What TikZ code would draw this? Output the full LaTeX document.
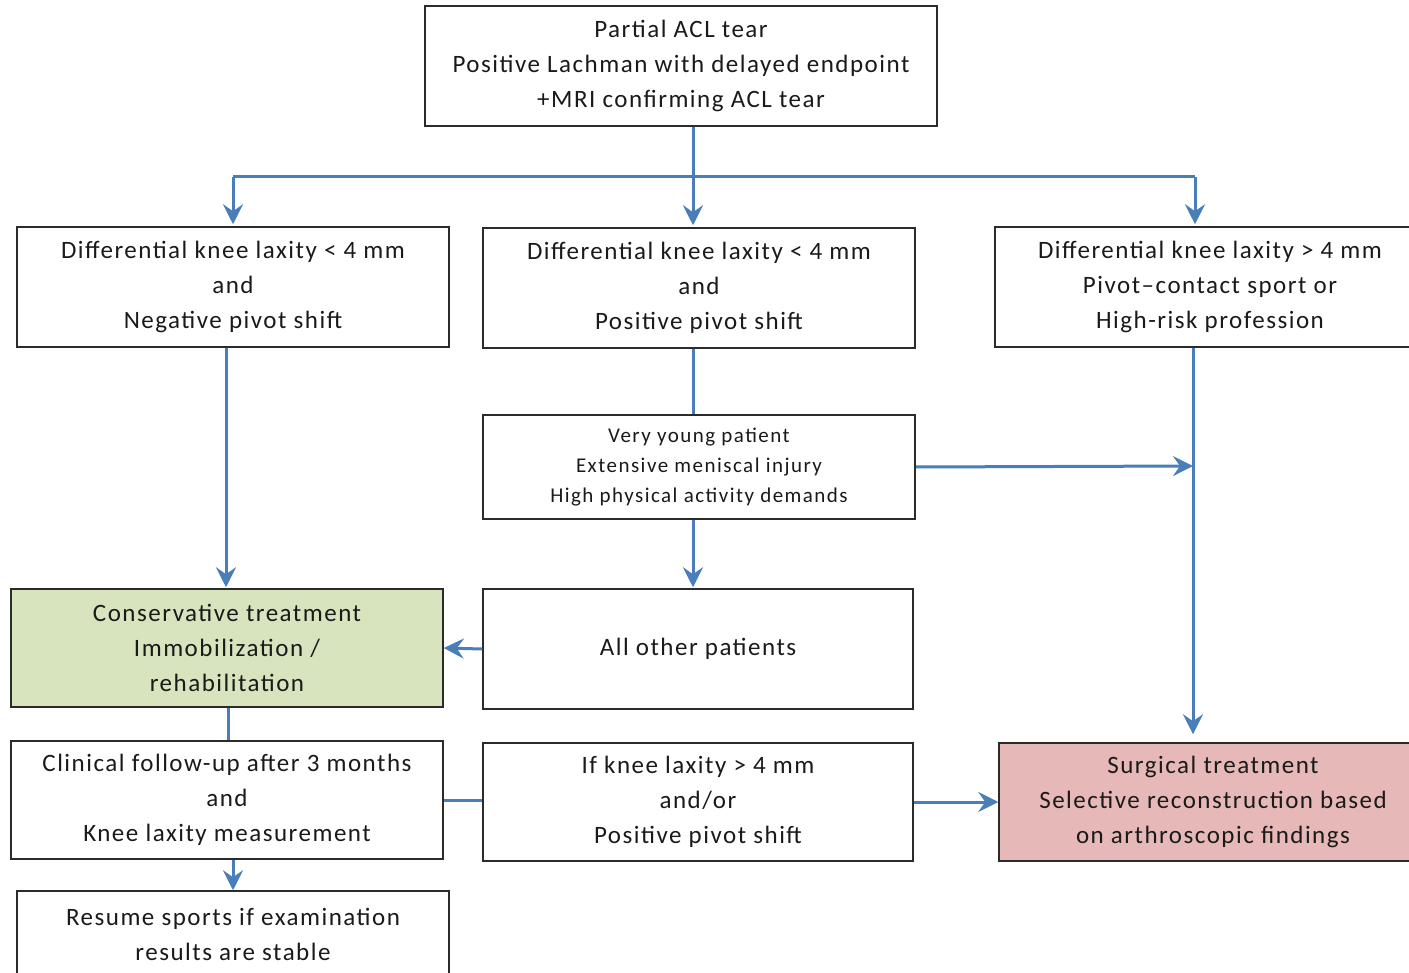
\documentclass[tikz,border=0pt]{standalone}
\usepackage{fontspec}
\setmainfont{Carlito}[LetterSpace=6]
\usetikzlibrary{arrows.meta}
\definecolor{arrblue}{HTML}{4A7EBB}
\definecolor{boxline}{HTML}{2B2B2B}
\definecolor{greenfill}{HTML}{D7E4BD}
\definecolor{redfill}{HTML}{E6B9B8}
\definecolor{txt}{HTML}{1A1A1A}
\tikzset{
  box/.style={draw=boxline, line width=1.5pt, minimum width=432pt, minimum height=120pt, inner sep=0pt, align=center, text=txt, font=\fontsize{25}{35}\selectfont},
  smallbox/.style={box, font=\fontsize{21}{30}\selectfont\addfontfeature{LetterSpace=7}},
  conn/.style={draw=arrblue, line width=3pt},
  arr/.style={conn, -{Stealth[length=20pt,width=20pt,inset=7pt]}},
}
\begin{document}
\begin{tikzpicture}[x=1pt,y=-1pt]
\useasboundingbox (0,0) rectangle (1409,973);
\clip (0,0) rectangle (1409,973);
\node[box, minimum width=512pt] (top) at (681,66) {Partial ACL tear\\Positive Lachman with delayed endpoint\\+MRI confirming ACL tear};
\node[box] (L1) at (233,287) {Differential knee laxity < 4 mm\\and\\Negative pivot shift};
\node[box] (M1) at (699,288) {Differential knee laxity < 4 mm\\and\\Positive pivot shift};
\node[box, minimum width=430pt] (R1) at (1210,287) {Differential knee laxity > 4 mm\\Pivot–contact sport or\\High-risk profession};
\node[smallbox, minimum height=104pt] (M2) at (699,467) {Very young patient\\Extensive meniscal injury\\High physical activity demands};
\node[box, minimum width=430pt] (M3) at (698,649) {All other patients};
\node[box, fill=greenfill, minimum height=118pt] (G) at (227,648) {Conservative treatment\\Immobilization /\\rehabilitation};
\node[box, minimum height=118pt] (C) at (227,800) {Clinical follow-up after 3 months\\and\\Knee laxity measurement};
\node[box, minimum width=430pt, minimum height=118pt] (IF) at (698,802) {If knee laxity > 4 mm\\and/or\\Positive pivot shift};
\node[box, fill=redfill, minimum width=428pt, minimum height=118pt] (S) at (1213,802) {Surgical treatment\\Selective reconstruction based\\on arthroscopic findings};
\node[box, minimum height=87pt] (RS) at (233,934.5) {Resume sports if examination\\results are stable};
% connectors
\coordinate (jm) at (693,177);
\coordinate (jl) at (233,177);
\coordinate (jr) at (1195,177);
\coordinate (mr) at (1193,466);
\draw[arr] (top.south -| jm) -- ([yshift=2pt]M1.north -| jm);
\draw[conn] (jl) -- (jr);
\draw[arr] (jl) -- ([yshift=2pt]L1.north -| jl);
\draw[arr] (jr) -- ([yshift=2pt]R1.north -| jr);
\draw[arr] (L1.south -| 226,0) -- ([yshift=1pt]G.north -| 226,0);
\draw[conn] (M1.south -| jm) -- (M2.north -| jm);
\draw[arr] (M2.east) -- (mr);
\draw[arr] (R1.south -| mr) -- ([yshift=8pt]S.north -| mr);
\draw[arr] (M2.south -| jm) -- ([yshift=1pt]M3.north -| jm);
\draw[arr] (M3.west) -- (G.east);
\draw[conn] (G.south -| 228,0) -- (C.north -| 228,0);
\draw[conn] (C.east) -- (C.east -| IF.west);
\draw[arr] (IF.east) -- (S.west);
\draw[arr] (C.south -| 233,0) -- (RS.north -| 233,0);
\end{tikzpicture}
\end{document}
